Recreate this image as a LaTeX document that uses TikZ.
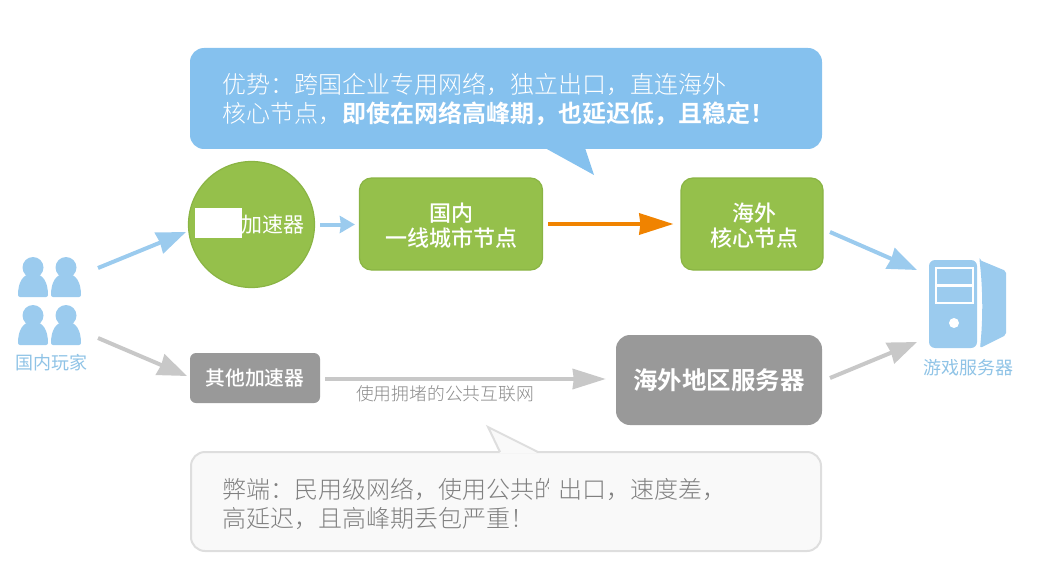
\documentclass[tikz,border=0pt]{standalone}
\usepackage{fontspec}
\usetikzlibrary{arrows.meta}
\setmainfont{Noto Sans CJK SC Light}[BoldFont={Noto Sans CJK SC Bold}]
\newfontfamily\cjkmed{Noto Sans CJK SC Medium}
\newfontfamily\cjkreg{Noto Sans CJK SC}
\definecolor{bubbleblue}{HTML}{85C1EE}
\definecolor{iconblue}{HTML}{9BCBEE}
\definecolor{labelblue}{HTML}{8FC3E6}
\definecolor{nodegreen}{HTML}{95C04B}
\definecolor{edgegreen}{HTML}{8AB444}
\definecolor{darrow}{HTML}{F08300}
\definecolor{greybox}{HTML}{999999}
\definecolor{greyarrow}{HTML}{C8C8C8}
\newcommand{\fs}[1]{\fontsize{#1}{#1}\selectfont}
\tikzset{
  greenbox/.style={draw=edgegreen,line width=1.2pt,fill=nodegreen,rounded corners=12pt,inner sep=0pt,text=white,align=center,font=\cjkmed\fontsize{22}{25}\selectfont},
  graybox/.style={fill=greybox,inner sep=0pt,text=white,align=center},
  bluearrow/.style={draw=iconblue,line width=4pt,-{Stealth[length=29pt,width=22pt,inset=1pt]}},
  grayarrow/.style={draw=greyarrow,line width=4pt,-{Stealth[length=29pt,width=22pt,inset=1pt]}},
  person/.pic={
    \fill[iconblue] (0,-10.5) circle (10.5);
    \fill[iconblue,rounded corners=2pt] (-15,19) .. controls (-15,3) and (-9,-4) .. (0,-4) .. controls (9,-4) and (15,3) .. (15,19) -- cycle;
  }
}
\begin{document}
\begin{tikzpicture}[x=1pt,y=-1pt]
\useasboundingbox (0,0) rectangle (1048,580);
% top bubble
\fill[bubbleblue,rounded corners=14pt] (190,48) rectangle (822,149);
\fill[bubbleblue] (585,148) -- (594,175) -- (545,148) -- cycle;
\node[anchor=west,inner sep=0pt,text=white,align=left,font=\fontsize{24}{29}\selectfont] (topnote) at (222,99) {优势：跨国企业专用网络，独立出口，直连海外\\核心节点，\textbf{即使在网络高峰期，也延迟低，且稳定！}};
% accelerator
\node[circle,draw=edgegreen,line width=1.2pt,fill=nodegreen,minimum size=126pt,inner sep=0pt] (accel) at (251.5,224.5) {};
\node[anchor=west,inner sep=0pt,text=white,font=\cjkreg\fontsize{21}{21}\selectfont] (acceltext) at (241,224.5) {加速器};
\fill[white] (195,208) rectangle (242,238);
% green boxes
\node[greenbox,minimum width=183pt,minimum height=92pt] (cn) at (451,224) {\rule{0pt}{21.5pt}国内\\一线城市节点};
\node[greenbox,minimum width=142pt,minimum height=92pt] (abroad) at (752,224) {\rule{0pt}{21.5pt}\hspace*{4pt}海外\\\hspace*{4pt}核心节点};
% lower row
\node[graybox,rounded corners=6pt,minimum width=130pt,minimum height=50pt,font=\cjkmed\fs{19.8}] (other) at (255,378) {其他加速器};
\node[graybox,rounded corners=14pt,minimum width=206pt,minimum height=90pt,font=\bfseries\fs{24.5}] (oversea) at (719,380) {海外地区服务器};
\node[inner sep=0pt,text=greybox!90!black,font=\fs{17.8}] (publicnet) at (445,394) {使用拥堵的公共互联网};
% bottom bubble
\draw[draw=black!13,line width=2pt,fill=black!2.5,rounded corners=14pt] (191,452) rectangle (821,551);
\fill[black!2.5] (500,453.2) -- (488,427) -- (538,453.2) -- cycle;
\draw[draw=black!13,line width=2pt,line join=miter] (500,452) -- (488,427) -- (538,452);
\node[anchor=west,inner sep=0pt,text=black!50,align=left,font=\fontsize{24}{29}\selectfont] (bottomnote) at (222,503.5) {弊端：民用级网络，使用公共的出口，速度差，\\高延迟，且高峰期丢包严重！};
\fill[black!2.5] (549,476) rectangle (560,500);
% players icon
\pic at (33,278) {person};
\pic at (66,278) {person};
\pic at (33,326) {person};
\pic at (66,326) {person};
\node[inner sep=0pt,text=labelblue,font=\cjkreg\fs{18}] (players) at (51,362.5) {国内玩家};
% server icon
\fill[iconblue,rounded corners=6pt] (929,260) rectangle (977,348);
\fill[iconblue,rounded corners=2pt] (979.5,260) -- (1006,271) -- (1006,335) -- (980,348) .. controls (983,320) and (983,290) .. (979.5,260) -- cycle;
\draw[white,line width=2.5pt] (936,268) rectangle (973,303);
\fill[iconblue] (938,271) rectangle (971,283);
\draw[white,line width=2.5pt] (936,285.5) -- (973,285.5);
\fill[white] (954,323) circle (5);
\node[inner sep=0pt,text=labelblue,font=\cjkreg\fs{18}] (server) at (968,367.5) {游戏服务器};
% free ends
\coordinate (p1) at (98,268);
\coordinate (a1) at (186,232);
\coordinate (p2) at (98,338);
\coordinate (a2) at (187,376);
\coordinate (s1) at (830,232);
\coordinate (t1) at (917,270);
\coordinate (s2) at (830,378);
\coordinate (t2) at (917,342);
% connectors
\draw[bluearrow] (p1) -- (a1);
\draw[grayarrow] (p2) -- (a2);
\draw[draw=iconblue,line width=4pt,-{Stealth[length=15pt,width=17pt,inset=1pt]},shorten <=5pt,shorten >=4pt,yshift=1pt] (accel.east) -- (accel.east -| cn.west);
\draw[draw=darrow,line width=4pt,-{Stealth[length=34pt,width=21pt,inset=1pt]},shorten <=5pt,shorten >=7pt,yshift=1pt] (cn.east) -- (abroad.west);
\draw[bluearrow] (s1) -- (t1);
\draw[grayarrow] (s2) -- (t2);
\draw[draw=greyarrow,line width=4pt,-{Stealth[length=33pt,width=20pt,inset=1pt]},shorten <=5pt,shorten >=10pt] (other.east) ++(0,1) -- (oversea.west |- 0,379);
\end{tikzpicture}
\end{document}
